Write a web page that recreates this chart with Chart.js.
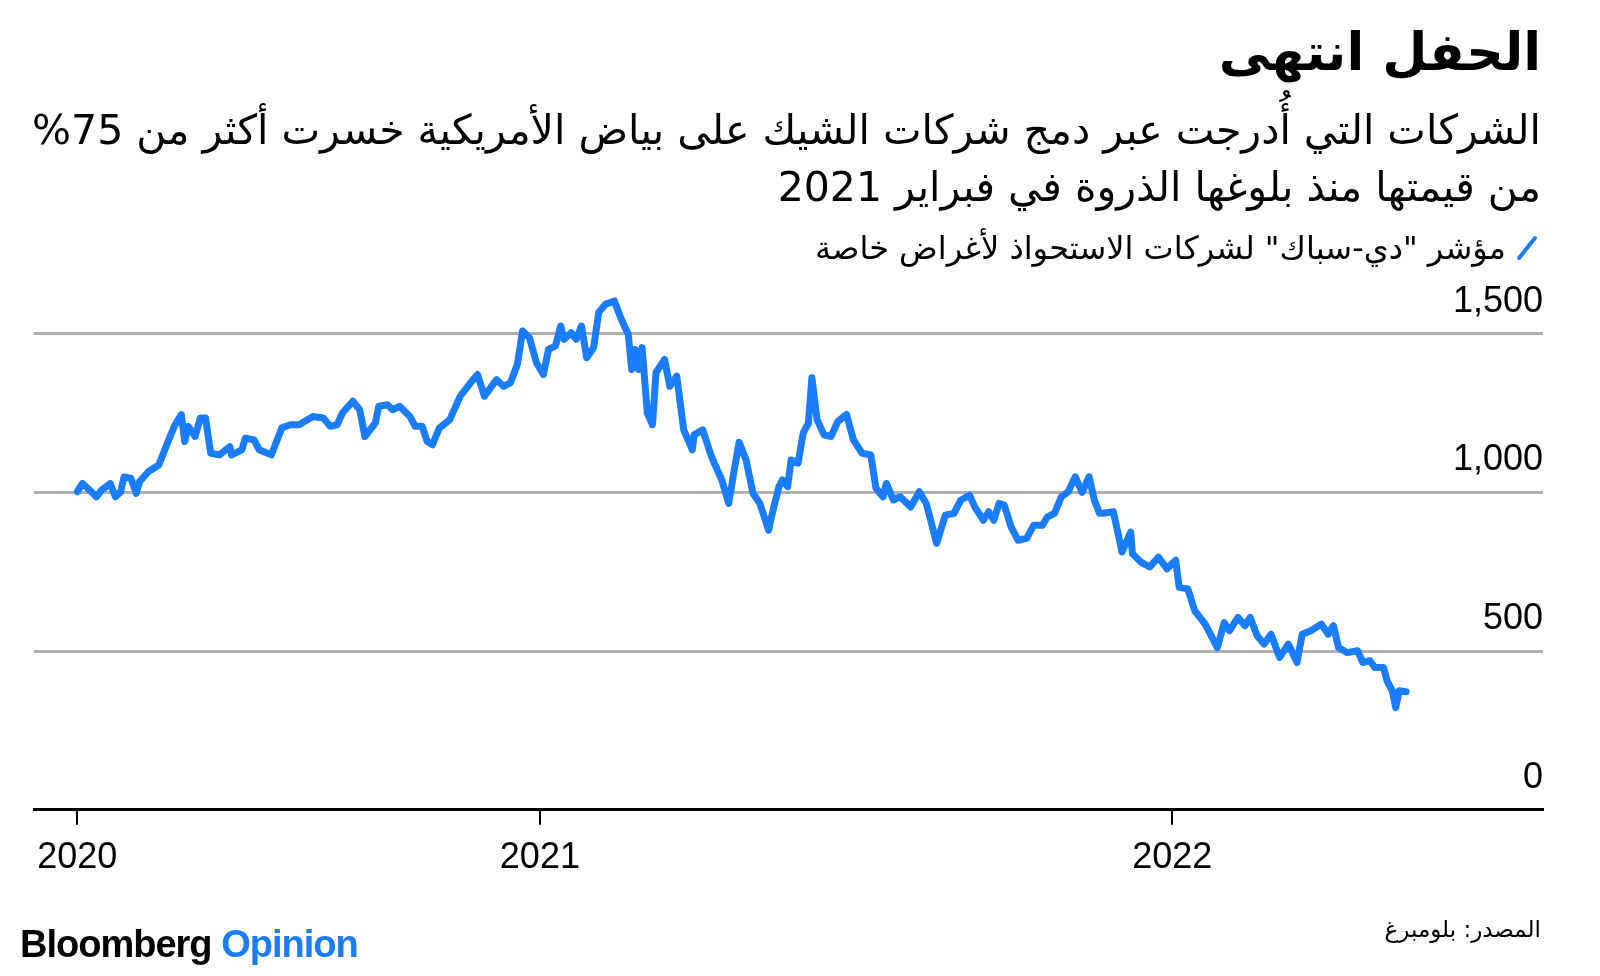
<!DOCTYPE html>
<html lang="ar">
<head>
<meta charset="utf-8">
<title>الحفل انتهى</title>
<script src="https://cdn.jsdelivr.net/npm/chart.js@4.4.1/dist/chart.umd.min.js"></script>
<style>
  html, body { margin: 0; padding: 0; background: #fff; }
  body { width: 1600px; height: 976px; position: relative; overflow: hidden; }
  #chartWrap { position: absolute; left: 0; top: 0; width: 1600px; height: 976px; }
  .txt { position: absolute; right: 59px; direction: rtl; text-align: right; color: #000; white-space: nowrap; font-family: "DejaVu Sans", sans-serif; }
  #title { top: 22px; font-size: 52px; font-weight: bold; }
  #subtitle { top: 102px; font-size: 41px; line-height: 57px; }
  #legend { top: 229px; font-size: 32px; display: flex; align-items: center; gap: 10px; right: 62px; }
  #source { top: 916px; font-size: 23px; }
  #brand { position: absolute; left: 20px; top: 923px; font-family: "Liberation Sans", Arial, sans-serif; font-weight: bold; font-size: 38px; letter-spacing: -1px; color: #000; }
  #brand span { color: #1a7cff; }
</style>
</head>
<body>
<div id="chartWrap"><canvas id="spacChart" width="1600" height="976"></canvas></div>

<div class="txt" id="title">الحفل انتهى</div>
<div class="txt" id="subtitle">الشركات التي أُدرجت عبر دمج شركات الشيك على بياض الأمريكية خسرت أكثر من 75%<br>من قيمتها منذ بلوغها الذروة في فبراير 2021</div>
<div class="txt" id="legend">
  <svg width="22" height="26" viewBox="0 0 22 26"><line x1="3" y1="23" x2="19" y2="3" stroke="#1a7cff" stroke-width="4" stroke-linecap="round"/></svg>
  <span>مؤشر "دي-سباك" لشركات الاستحواذ لأغراض خاصة</span>
</div>
<div class="txt" id="source">المصدر: بلومبرغ</div>
<div id="brand">Bloomberg <span>Opinion</span></div>

<script>
// De-SPAC index
const dates = [
  '2020-04-09', '2020-04-12', '2020-04-15', '2020-04-20', '2020-04-23', '2020-04-28', '2020-05-01', '2020-05-04',
  '2020-05-06', '2020-05-10', '2020-05-13', '2020-05-15', '2020-05-20', '2020-05-26', '2020-05-31', '2020-06-04',
  '2020-06-08', '2020-06-10', '2020-06-12', '2020-06-16', '2020-06-19', '2020-06-22', '2020-06-25', '2020-06-30',
  '2020-07-06', '2020-07-07', '2020-07-13', '2020-07-15', '2020-07-20', '2020-07-23', '2020-07-30', '2020-08-05',
  '2020-08-10', '2020-08-15', '2020-08-23', '2020-08-29', '2020-09-02', '2020-09-06', '2020-09-09', '2020-09-15',
  '2020-09-19', '2020-09-22', '2020-09-28', '2020-09-30', '2020-10-05', '2020-10-08', '2020-10-12', '2020-10-18',
  '2020-10-21', '2020-10-25', '2020-10-28', '2020-10-31', '2020-11-04', '2020-11-10', '2020-11-16', '2020-11-22',
  '2020-11-26', '2020-11-30', '2020-12-07', '2020-12-11', '2020-12-15', '2020-12-19', '2020-12-22', '2020-12-26',
  '2020-12-30', '2021-01-03', '2021-01-06', '2021-01-10', '2021-01-13', '2021-01-15', '2021-01-19', '2021-01-22',
  '2021-01-25', '2021-01-28', '2021-02-01', '2021-02-04', '2021-02-08', '2021-02-13', '2021-02-17', '2021-02-21',
  '2021-02-23', '2021-02-25', '2021-02-27', '2021-03-01', '2021-03-04', '2021-03-07', '2021-03-09', '2021-03-14',
  '2021-03-17', '2021-03-21', '2021-03-25', '2021-03-30', '2021-03-31', '2021-04-05', '2021-04-10', '2021-04-16',
  '2021-04-20', '2021-04-23', '2021-04-26', '2021-04-30', '2021-05-04', '2021-05-08', '2021-05-13', '2021-05-16',
  '2021-05-19', '2021-05-21', '2021-05-24', '2021-05-26', '2021-05-30', '2021-06-02', '2021-06-05', '2021-06-07',
  '2021-06-10', '2021-06-14', '2021-06-18', '2021-06-22', '2021-06-27', '2021-07-01', '2021-07-06', '2021-07-11',
  '2021-07-14', '2021-07-18', '2021-07-20', '2021-07-24', '2021-07-28', '2021-08-03', '2021-08-08', '2021-08-12',
  '2021-08-18', '2021-08-23', '2021-08-28', '2021-09-01', '2021-09-06', '2021-09-09', '2021-09-14', '2021-09-17',
  '2021-09-20', '2021-09-23', '2021-09-26', '2021-09-30', '2021-10-04', '2021-10-09', '2021-10-13', '2021-10-18',
  '2021-10-21', '2021-10-25', '2021-10-29', '2021-11-02', '2021-11-06', '2021-11-10', '2021-11-14', '2021-11-17',
  '2021-11-20', '2021-11-22', '2021-11-28', '2021-12-03', '2021-12-08', '2021-12-09', '2021-12-14', '2021-12-19',
  '2021-12-24', '2021-12-29', '2022-01-03', '2022-01-05', '2022-01-10', '2022-01-14', '2022-01-20', '2022-01-27',
  '2022-01-31', '2022-02-03', '2022-02-08', '2022-02-12', '2022-02-15', '2022-02-19', '2022-02-23', '2022-02-27',
  '2022-03-04', '2022-03-09', '2022-03-14', '2022-03-17', '2022-03-22', '2022-03-28', '2022-04-01', '2022-04-04',
  '2022-04-07', '2022-04-12', '2022-04-18', '2022-04-21', '2022-04-25', '2022-04-28', '2022-05-03', '2022-05-05',
  '2022-05-08', '2022-05-10', '2022-05-12', '2022-05-16'
];

const indexValues = [
  1002, 1028, 1013, 986, 1007, 1028, 986, 1002,
  1049, 1044, 997, 1034, 1065, 1086, 1155, 1208,
  1245, 1160, 1208, 1176, 1234, 1234, 1123, 1118,
  1144, 1118, 1134, 1171, 1165, 1134, 1118, 1203,
  1213, 1213, 1239, 1234, 1208, 1213, 1250, 1287,
  1260, 1176, 1218, 1271, 1276, 1260, 1271, 1239,
  1208, 1208, 1160, 1150, 1203, 1229, 1303, 1345,
  1371, 1303, 1355, 1334, 1345, 1403, 1508, 1487,
  1408, 1371, 1450, 1461, 1524, 1482, 1503, 1482,
  1524, 1424, 1456, 1567, 1593, 1603, 1545, 1498,
  1387, 1450, 1387, 1456, 1250, 1213, 1377, 1419,
  1334, 1366, 1197, 1134, 1181, 1197, 1113, 1039,
  965, 1065, 1158, 1102, 997, 965, 881, 954,
  1018, 1039, 1018, 1102, 1092, 1187, 1218, 1361,
  1229, 1181, 1176, 1223, 1245, 1165, 1123, 1118,
  1013, 986, 1028, 976, 986, 954, 1002, 965,
  839, 928, 934, 976, 991, 954, 912, 939,
  912, 965, 960, 891, 849, 855, 896, 896,
  923, 934, 986, 1002, 1049, 1000, 1049, 976,
  934, 934, 939, 812, 875, 807, 780, 765,
  796, 759, 786, 701, 696, 627, 585, 511,
  590, 564, 606, 580, 606, 548, 522, 553,
  480, 522, 464, 553, 564, 585, 553, 580,
  511, 495, 501, 464, 470, 448, 448, 406,
  375, 322, 375, 372
];

const xTickDates = ['2020-04-09', '2021-01-01', '2022-01-01'];
const xTickLabels = ['2020', '2021', '2022'];
const yTickValues = [0, 500, 1000, 1500];

const axisStart = '2020-03-15';
const axisEnd = '2022-08-03';

function dayNum(s) {
    return Date.parse(s) / 86400000;
}

const points = dates.map((d, i) => ({ x: dayNum(d), y: indexValues[i] }));

const ctx = document.getElementById('spacChart').getContext('2d');
new Chart(ctx, {
    type: 'line',
    data: {
        datasets: [{
            label: 'مؤشر "دي-سباك" لشركات الاستحواذ لأغراض خاصة',
            data: points,
            borderColor: '#1a7cff',
            borderWidth: 7,
            pointRadius: 0,
            tension: 0,
            borderJoinStyle: 'round',
            borderCapStyle: 'round'
        }]
    },
    options: {
        responsive: false,
        animation: false,
        events: [],
        layout: {
            padding: { left: 34, right: 57, top: 286, bottom: 84 }
        },
        plugins: {
            legend: { display: false },
            tooltip: { enabled: false }
        },
        scales: {
            x: {
                type: 'linear',
                min: dayNum(axisStart),
                max: dayNum(axisEnd),
                afterBuildTicks: scale => {
                    scale.ticks = xTickDates.map(d => ({ value: dayNum(d) }));
                },
                grid: {
                    drawOnChartArea: false,
                    drawTicks: true,
                    tickLength: 15,
                    color: '#000',
                    lineWidth: 2
                },
                border: { display: true, color: '#000', width: 3 },
                ticks: {
                    autoSkip: false,
                    maxRotation: 0,
                    padding: 12,
                    color: '#000',
                    font: { family: '"Liberation Sans", Arial, sans-serif', size: 36 },
                    callback: (value, index) => xTickLabels[index]
                }
            },
            y: {
                position: 'right',
                min: 0,
                max: 1650,
                afterBuildTicks: scale => {
                    scale.ticks = yTickValues.map(v => ({ value: v }));
                },
                grid: {
                    drawTicks: false,
                    color: ctx => ctx.tick && ctx.tick.value === 0 ? '#000' : '#b0b0b0',
                    lineWidth: 3
                },
                border: { display: false },
                ticks: {
                    mirror: true,
                    padding: 0,
                    labelOffset: -32,
                    color: '#000',
                    font: { family: '"Liberation Sans", Arial, sans-serif', size: 36 },
                    callback: value => value.toLocaleString('en-US')
                }
            }
        }
    }
});
</script>
</body>
</html>
